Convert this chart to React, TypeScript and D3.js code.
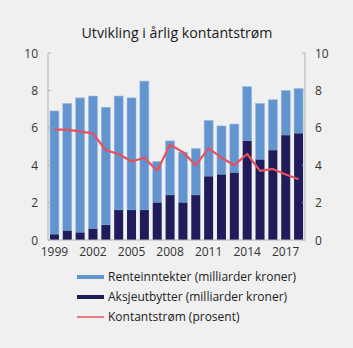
import React from "react";
import * as d3 from "d3";

const years = [1999,2000,2001,2002,2003,2004,2005,2006,2007,2008,2009,2010,2011,2012,2013,2014,2015,2016,2017,2018];
const aksjeutbytter = [0.3,0.5,0.4,0.6,0.8,1.6,1.6,1.6,2.0,2.4,2.0,2.4,3.4,3.5,3.6,5.3,4.3,4.8,5.6,5.7];
const renteinntekter = [6.6,6.8,7.2,7.1,6.3,6.1,6.0,6.9,2.2,2.9,2.7,2.5,3.0,2.6,2.6,2.9,3.0,2.7,2.4,2.4];
const kontantstrom = [5.9,5.9,5.8,5.7,4.8,4.6,4.2,4.4,3.7,5.1,4.7,4.0,4.9,4.4,4.0,4.6,3.7,3.8,3.5,3.25];
const yTicks = [0,2,4,6,8,10];
const xLabelYears = [1999,2002,2005,2008,2011,2014,2017];
const legendLabels = [
  "Renteinntekter (milliarder kroner)",
  "Aksjeutbytter (milliarder kroner)",
  "Kontantstrøm (prosent)",
];

const W = 353, H = 348;
const left = 48, right = 305, top = 53, bottom = 240;
const cLight = "#6294cf", cDark = "#1f1c5b", cRed = "#e8505e";
const font = "'Open Sans', sans-serif";

export default function App() {
  const x = d3.scaleBand<number>().domain(years).range([left, right]).paddingInner(0.3).paddingOuter(0.15);
  const y = d3.scaleLinear().domain([0, 10]).range([bottom, top]);
  const line = d3.line<number>().x((_, i) => x(years[i])! + x.bandwidth() / 2).y(d => y(d));
  return (
    <svg width={W} height={H} style={{ position: "absolute", left: 0, top: 0, background: "#f0f0f0" }} fontFamily={font}>
      <rect x={0} y={0} width={W} height={H} fill="#f0f0f0" />
      <text x={177} y={38} textAnchor="middle" fontSize={14.2} fontWeight={500} fill="#1a1a1a">Utvikling i årlig kontantstrøm</text>
      {years.map((yr, i) => (
        <g key={yr}>
          <rect x={x(yr)} y={y(aksjeutbytter[i] + renteinntekter[i])} width={x.bandwidth()} height={y(aksjeutbytter[i]) - y(aksjeutbytter[i] + renteinntekter[i])} fill={cLight} stroke="#9dbde3" strokeWidth={0.6} />
          <rect x={x(yr)} y={y(aksjeutbytter[i])} width={x.bandwidth()} height={bottom - y(aksjeutbytter[i])} fill={cDark} />
        </g>
      ))}
      <path d={line(kontantstrom) || ""} fill="none" stroke={cRed} strokeWidth={2.2} strokeLinejoin="round" />
      <line x1={left} x2={left} y1={top} y2={bottom} stroke="#b0b0b0" strokeWidth={1} />
      <line x1={right} x2={right} y1={top} y2={bottom} stroke="#b0b0b0" strokeWidth={1} />
      <line x1={left} x2={right} y1={bottom} y2={bottom} stroke="#b0b0b0" strokeWidth={1} />
      {yTicks.map(t => (
        <g key={t}>
          <line x1={left} x2={left + 3} y1={y(t)} y2={y(t)} stroke="#b0b0b0" />
          <line x1={right - 3} x2={right} y1={y(t)} y2={y(t)} stroke="#b0b0b0" />
          <text x={38} y={y(t) + 4.5} textAnchor="end" fontSize={12} fill="#333">{t}</text>
          <text x={315} y={y(t) + 4.5} textAnchor="start" fontSize={12} fill="#333">{t}</text>
        </g>
      ))}
      {xLabelYears.map(yr => (
        <text key={yr} x={x(yr)! + x.bandwidth() / 2} y={256} textAnchor="middle" fontSize={12} fill="#333">{yr}</text>
      ))}
      {legendLabels.map((lab, i) => (
        <g key={lab}>
          {i < 2 ? (
            <rect x={77} y={277 + i * 20 - 2} width={27} height={4} fill={i === 0 ? cLight : cDark} />
          ) : (
            <line x1={77} x2={104} y1={277 + i * 20} y2={277 + i * 20} stroke={cRed} strokeWidth={1.5} />
          )}
          <text x={108} y={277 + i * 20 + 4} fontSize={12} fill="#222">{lab}</text>
        </g>
      ))}
    </svg>
  );
}
